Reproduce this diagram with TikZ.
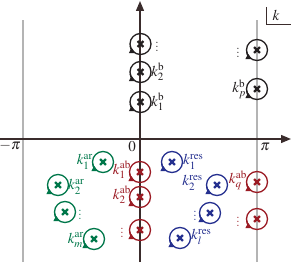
\documentclass[tikz,border=0pt]{standalone}
\usepackage{mathptmx}
\usepackage{tikz}
\usetikzlibrary{arrows.meta,calc}
\definecolor{axc}{HTML}{3A2C2C}
\definecolor{grl}{HTML}{B4B4B4}
\definecolor{polb}{HTML}{231F20}
\definecolor{polr}{HTML}{9B1B24}
\definecolor{polg}{HTML}{00774A}
\definecolor{pols}{HTML}{25308F}
\tikzset{
  axis/.style={draw=axc,line width=1.3pt,-{Triangle[length=10pt,width=8pt]}},
  cut/.style={draw=grl,line width=1.3pt},
  polec/.style={circle,draw=#1,line width=1.3pt,minimum size=21pt,inner sep=0pt},
  lab/.style={font=\fontsize{15}{17}\selectfont,inner sep=0pt,text=#1},
  lab/.default=polb,
}
% pole: name, position, colour
\newcommand{\pole}[3]{%
  \node[polec=#3] (#1) at (#2) {};
  \draw[#3,line width=2.3pt] ($(#1)+(-2.9,-2.9)$) -- ($(#1)+(2.9,2.9)$)
    ($(#1)+(-2.9,2.9)$) -- ($(#1)+(2.9,-2.9)$);
  \draw[#3,line width=1.3pt,-{Triangle[length=6pt,width=5.5pt]}]
    ($(#1)+(190:10.5)$) arc[start angle=190,end angle=242,radius=10.5];
}
\begin{document}
\begin{tikzpicture}[x=1pt,y=1pt]
\useasboundingbox (0,0) rectangle (291,262);
% cuts and axes
\coordinate (cl0) at (23,0); \coordinate (cl1) at (23,242);
\coordinate (cr0) at (257,0); \coordinate (cr1) at (257,242);
\draw[cut] (cl0) -- (cl1);
\draw[cut] (cr0) -- (cr1);
\coordinate (xa0) at (0,123); \coordinate (xa1) at (291,123);
\coordinate (ya0) at (140,0); \coordinate (ya1) at (140,261);
\draw[axis] (xa0) -- (xa1);
\draw[axis] (ya0) -- (ya1);
\node[lab] (mpi) at (10,116) {$-\pi$};
\node[lab] (zero) at (132,115) {$0$};
\node[lab] (ppi) at (265,115) {$\pi$};
% k box
\coordinate (kb0) at (266,255); \coordinate (kb1) at (266,238); \coordinate (kb2) at (291,238);
\draw[axc,line width=0.6pt] (kb0) -- (kb1) -- (kb2);
\node[lab] (kk) at (276,247) {$k$};
% bound states on the imaginary axis
\pole{b1}{140.5,160}{polb}
\pole{b2}{140.5,190}{polb}
\pole{b3}{140.5,218}{polb}
\node[lab,anchor=west] (lb1) at (151,160) {$k_1^{\mathrm{b}}$};
\node[lab,anchor=west] (lb2) at (151,190) {$k_2^{\mathrm{b}}$};
\node[lab] (db3) at (157,218) {$\vdots$};
\pole{bp}{257,173}{polb}
\pole{bq}{257,212}{polb}
\node[lab,anchor=east] (lbp) at (246,173) {$k_p^{\mathrm{b}}$};
\node[lab] (dbq) at (238,212) {$\vdots$};
% anti-bound states
\pole{a1}{140,90}{polr}
\pole{a2}{140,65}{polr}
\pole{a3}{140,32}{polr}
\node[lab=polr,anchor=east] (la1) at (131,92) {$k_1^{\mathrm{ab}}$};
\node[lab=polr,anchor=east] (la2) at (131,67) {$k_2^{\mathrm{ab}}$};
\node[lab=polr] (da3) at (122,32) {$\vdots$};
\pole{aq}{257,80}{polr}
\pole{ar}{257,43}{polr}
\node[lab=polr,anchor=east] (laq) at (247,82) {$k_q^{\mathrm{ab}}$};
\node[lab=polr] (dar) at (238,43) {$\vdots$};
% anti-resonances
\pole{r1}{103,100}{polg}
\pole{r2}{58,77}{polg}
\pole{r3}{65,50}{polg}
\pole{rm}{94,23}{polg}
\node[lab=polg,anchor=east] (lr1) at (93,100) {$k_1^{\mathrm{ar}}$};
\node[lab=polg,anchor=west] (lr2) at (68,75) {$k_2^{\mathrm{ar}}$};
\node[lab=polg] (dr3) at (80,50) {$\vdots$};
\node[lab=polg,anchor=east] (lrm) at (84,22) {$k_m^{\mathrm{ar}}$};
% resonances
\pole{s1}{172,100}{pols}
\pole{s2}{217,77}{pols}
\pole{s3}{210,49}{pols}
\pole{sl}{180,24}{pols}
\node[lab=pols,anchor=west] (ls1) at (183,100) {$k_1^{\mathrm{res}}$};
\node[lab=pols,anchor=east] (ls2) at (203,79) {$k_2^{\mathrm{res}}$};
\node[lab=pols] (ds3) at (195,49) {$\vdots$};
\node[lab=pols,anchor=west] (lsl) at (191,25) {$k_l^{\mathrm{res}}$};
\end{tikzpicture}
\end{document}
